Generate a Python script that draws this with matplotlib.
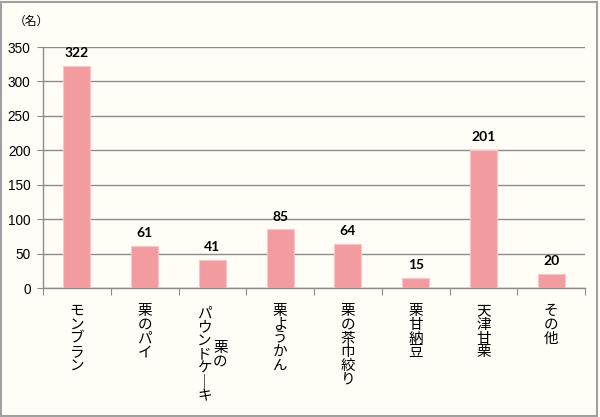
import matplotlib
matplotlib.use("Agg")
import matplotlib.pyplot as plt
from matplotlib.patches import Rectangle

plt.rcParams['font.family'] = ['Noto Sans CJK JP', 'DejaVu Sans']

categories = ["モンブラン", "栗のパイ", "栗のパウンドケーキ", "栗ようかん", "栗の茶巾絞り", "栗甘納豆", "天津甘栗", "その他"]
# vertical label columns (right-to-left for multi-column labels)
label_columns = [["モンブラン"], ["栗のパイ"], ["栗の", "パウンドケ｜キ"], ["栗ようかん"],
                 ["栗の茶巾絞り"], ["栗甘納豆"], ["天津甘栗"], ["その他"]]
values = [322, 61, 41, 85, 64, 15, 201, 20]
yticks = [0, 50, 100, 150, 200, 250, 300, 350]
unit_label = "（名）"

bg = "#FFFDF6"
bar_color = "#F29CA0"
edge_color = "#F9C6C8"
grid_color = "#8C8C8C"

fig = plt.figure(figsize=(6.0, 4.17), dpi=100, facecolor=bg)
W, H = 600, 417
ax = fig.add_axes([43 / W, 1 - 288 / H, (585 - 43) / W, (288 - 47) / H])
ax.set_facecolor(bg)

n = len(categories)
xs = list(range(n))
ax.bar(xs, values, width=0.4, color=bar_color, edgecolor=edge_color, linewidth=0.8, zorder=3)
ax.set_xlim(-0.5, n - 0.5)
ax.set_ylim(0, 350)
ax.set_yticks(yticks)
ax.set_yticklabels([str(t) for t in yticks], fontsize=9.8, family=['Liberation Sans', 'DejaVu Sans'])
ax.yaxis.grid(True, color=grid_color, linewidth=1.0, zorder=1)
ax.set_axisbelow(True)

ax.set_xticks([i - 0.5 for i in range(n + 1)])
ax.set_xticklabels([])
ax.tick_params(axis='x', length=5, color=grid_color, direction='out')
ax.tick_params(axis='y', length=4, color=grid_color, direction='out', pad=5)

for s in ['top', 'right']:
    ax.spines[s].set_visible(False)
for s in ['left', 'bottom']:
    ax.spines[s].set_color(grid_color)
    ax.spines[s].set_linewidth(1.0)

# value labels
for x, v in zip(xs, values):
    ax.annotate(str(v), (x, v), xytext=(0, 5), textcoords='offset points',
                ha='center', va='bottom', fontsize=10, fontweight='bold',
                family=['Lato', 'DejaVu Sans'])

# vertical category labels
trans = ax.get_xaxis_transform()
axes_h = 288 - 47
top_frac = -16 / axes_h
char_h = 14.5  # px per character
col_gap = 16 / 67.75  # data units between columns
fs = 10.5
for i, cols in enumerate(label_columns):
    maxlen = max(len(c) for c in cols)
    center_frac = top_frac - (maxlen * char_h / 2) / axes_h
    k = len(cols)
    for j, col in enumerate(cols):
        xpos = i + ((k - 1) / 2 - j) * col_gap
        txt = "\n".join(col)
        if k == 1:
            ax.text(xpos, top_frac, txt, transform=trans, ha='center', va='top',
                    fontsize=fs, linespacing=0.98)
        else:
            ax.text(xpos, center_frac, txt, transform=trans, ha='center', va='center',
                    fontsize=fs, linespacing=0.98)

fig.text(14 / W, 1 - 21 / H, unit_label, fontsize=8.5, ha='left', va='center')

# outer border
fig.patches.append(Rectangle((1 / W, 1 / H), 596 / W, 414 / H, transform=fig.transFigure,
                             fill=False, edgecolor="#A0A0A0", linewidth=1.5))

fig.savefig("out.png", dpi=100, facecolor=bg)
